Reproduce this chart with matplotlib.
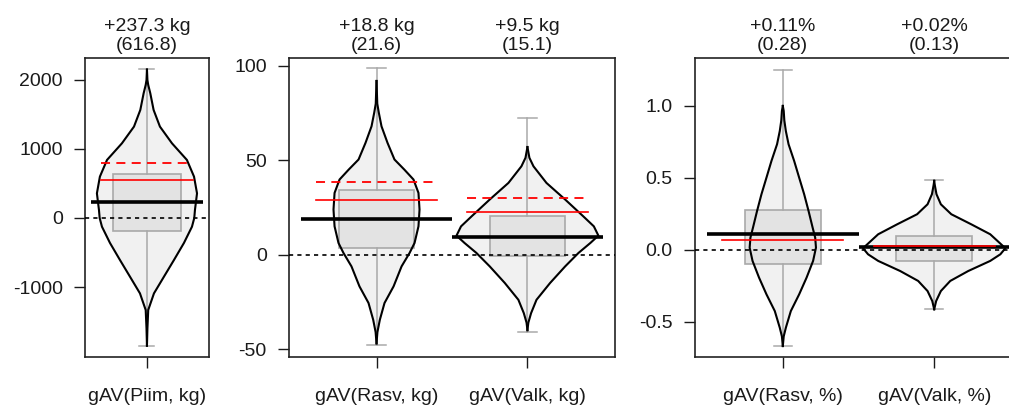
import numpy as np
import matplotlib
matplotlib.use("Agg")
import matplotlib.pyplot as plt
from matplotlib.patches import Rectangle
from matplotlib.transforms import blended_transform_factory

plt.rcParams['font.family'] = ['Liberation Sans', 'DejaVu Sans']
plt.rcParams['font.size'] = 14


# ------------------------------------------------------------
# 1. DATA
# ------------------------------------------------------------
traits = ["gAV(Piim, kg)", "gAV(Rasv, kg)", "gAV(Valk, kg)",
          "gAV(Rasv, %)", "gAV(Valk, %)"]
unit = ["kg", "kg", "kg", "%", "%"]
mean = [237.3, 18.8, 9.5, 0.11, 0.02]
sd = [616.8, 21.6, 15.1, 0.28, 0.13]

# reference lines (solid / dashed red)
ref_solid = [555, 29.2, 22.8, 0.07, 0.025]
ref_dashed = [795, 38.7, 30.2, None, None]

# boxplot summary
q1 = [-188, 3.5, -0.9, -0.095, -0.076]
q3 = [633, 34.5, 20.7, 0.278, 0.097]
wlo = [-1850, -48.1, -41.0, -0.667, -0.412]
whi = [2159, 99.0, 72.5, 1.248, 0.484]

# bean outlines: value levels and density half-widths
piim_y = [2150, 2000, 1928, 1807, 1565, 1324, 1082, 841, 599, 357, 116, 0,
          -126, -362, -609, -850, -1092, -1333, -1600, -1850]
piim_w = [0, 0.004, 0.011, 0.029, 0.058, 0.113, 0.218, 0.348, 0.41, 0.436,
          0.418, 0.412, 0.392, 0.322, 0.235, 0.148, 0.061, 0.011, 0.004, 0]

rasv_kg_y = [92, 80, 75.3, 68, 59.2, 50.4, 45, 39.8, 32.7, 23.9, 15, 6.2, 0.9,
             -6.2, -16.8, -25.6, -34.5, -41, -47]
rasv_kg_w = [0, 0.005, 0.015, 0.033, 0.073, 0.119, 0.185, 0.245, 0.278, 0.285,
             0.278, 0.252, 0.219, 0.166, 0.113, 0.053, 0.022, 0.006, 0]

valk_kg_y = [57, 51.3, 46.8, 38, 29.2, 20.3, 15, 10.1, 6.2, 0.9, -6.2, -15,
             -23.9, -31, -36, -40]
valk_kg_w = [0, 0.013, 0.04, 0.126, 0.25, 0.37, 0.44, 0.47, 0.417, 0.338,
             0.25, 0.15, 0.06, 0.024, 0.006, 0]

rasv_pct_y = [1.0, 0.965, 0.9, 0.826, 0.734, 0.618, 0.502, 0.387, 0.271,
              0.155, 0.085, 0.016, -0.076, -0.192, -0.308, -0.424, -0.54,
              -0.6, -0.667]
rasv_pct_w = [0, 0.006, 0.01, 0.02, 0.038, 0.075, 0.108, 0.141, 0.17, 0.197,
              0.214, 0.219, 0.2, 0.157, 0.108, 0.053, 0.02, 0.006, 0]

valk_pct_y = [0.48, 0.45, 0.387, 0.317, 0.248, 0.178, 0.109, 0.051, 0.012,
              -0.03, -0.076, -0.146, -0.215, -0.285, -0.354, -0.412]
valk_pct_w = [0, 0.004, 0.015, 0.044, 0.113, 0.245, 0.37, 0.43, 0.47, 0.437,
              0.37, 0.225, 0.106, 0.044, 0.013, 0]

beans = [(piim_y, piim_w), (rasv_kg_y, rasv_kg_w), (valk_kg_y, valk_kg_w),
         (rasv_pct_y, rasv_pct_w), (valk_pct_y, valk_pct_w)]


# ------------------------------------------------------------
# 2. DRAWING HELPERS
# ------------------------------------------------------------
def draw_bean(ax, x, i, box_half, cap_half, line_half):
    ys = np.array(beans[i][0], dtype=float)
    ws = np.array(beans[i][1], dtype=float)

    # bean body
    ax.fill_betweenx(ys, x - ws, x + ws, color="#f1f1f1", lw=0, zorder=1)

    # boxplot in grey
    ax.add_patch(Rectangle((x - box_half, q1[i]), 2 * box_half, q3[i] - q1[i],
                           facecolor="#e3e3e3", edgecolor="#a9a9a9", lw=1.2, zorder=2))
    ax.plot([x, x], [q3[i], whi[i]], color="#a9a9a9", lw=1.1, zorder=2)
    ax.plot([x, x], [wlo[i], q1[i]], color="#a9a9a9", lw=1.1, zorder=2)
    for w in (wlo[i], whi[i]):
        ax.plot([x - cap_half, x + cap_half], [w, w], color="#a9a9a9", lw=1.1, zorder=2)

    # bean outline
    ax.plot(x - ws, ys, color="black", lw=1.5, zorder=3)
    ax.plot(x + ws, ys, color="black", lw=1.5, zorder=3)

    # mean line and red reference lines
    ax.plot([x - line_half, x + line_half], [mean[i], mean[i]],
            color="black", lw=2.6, solid_capstyle="butt", zorder=5)
    ax.plot([x - 0.4, x + 0.4], [ref_solid[i], ref_solid[i]],
            color="red", lw=1.2, zorder=6)
    if ref_dashed[i] is not None:
        ax.plot([x - 0.4, x + 0.4], [ref_dashed[i], ref_dashed[i]],
                color="red", lw=1.3, ls=(0, (5, 3.5)), zorder=6)

    # mean (sd) header above each bean
    if unit[i] == "%":
        head = f"+{mean[i]:.2f}%\n({sd[i]:.2f})"
    else:
        head = f"+{mean[i]:.1f} {unit[i]}\n({sd[i]:.1f})"
    tr = blended_transform_factory(ax.transData, ax.transAxes)
    ax.text(x, 1.012, head, transform=tr, ha="center", va="bottom",
            color="#1a1a1a", linespacing=1.15)


def style_axis(ax, xs, idx, ylim, yticks, ylabels, xlim):
    ax.set_xlim(*xlim)
    ax.set_ylim(*ylim)
    ax.axhline(0, color="black", lw=1.2, ls=(0, (2.5, 2.5)), zorder=4)
    ax.set_yticks(yticks)
    ax.set_yticklabels(ylabels)
    ax.set_xticks(xs)
    ax.set_xticklabels([traits[i] for i in idx])
    ax.tick_params(axis="y", length=8, width=1.0, pad=8, colors="#1a1a1a")
    ax.tick_params(axis="x", length=8, width=1.0, pad=14, colors="#1a1a1a")
    for s in ax.spines.values():
        s.set_linewidth(1.2)
        s.set_color("#222222")


# ------------------------------------------------------------
# 3. FIGURE
# ------------------------------------------------------------
fig = plt.figure(figsize=(10.09, 4.08), dpi=100)

ax1 = fig.add_axes([0.0842, 0.125, 0.1229, 0.733])
ax2 = fig.add_axes([0.2864, 0.125, 0.3231, 0.733])
ax3 = fig.add_axes([0.6888, 0.125, 0.3241, 0.733])

draw_bean(ax1, 1, 0, box_half=0.30, cap_half=0.065, line_half=0.49)
style_axis(ax1, [1], [0], (-2014, 2319), [-1000, 0, 1000, 2000],
           ["-1000", "0", "1000", "2000"], (0.46, 1.54))

for x, i in zip([1, 2], [1, 2]):
    draw_bean(ax2, x, i, box_half=0.25, cap_half=0.06, line_half=0.5)
style_axis(ax2, [1, 2], [1, 2], (-54.2, 104.2), [-50, 0, 50, 100],
           ["-50", "0", "50", "100"], (0.42, 2.58))

for x, i in zip([1, 2], [3, 4]):
    draw_bean(ax3, x, i, box_half=0.25, cap_half=0.06, line_half=0.5)
style_axis(ax3, [1, 2], [3, 4], (-0.743, 1.333), [-0.5, 0.0, 0.5, 1.0],
           ["-0.5", "0.0", "0.5", "1.0"], (0.42, 2.58))

fig.savefig("out.png", dpi=100)
